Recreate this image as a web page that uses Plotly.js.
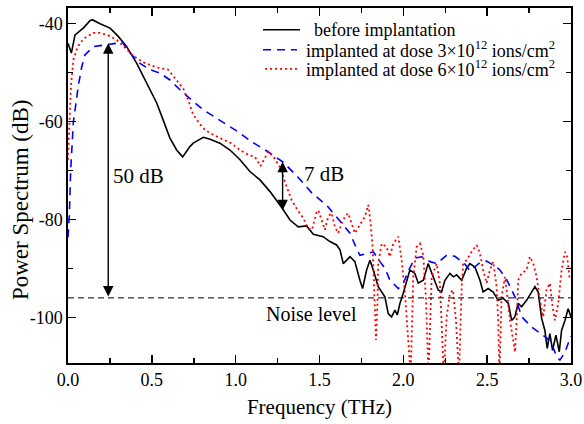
<!DOCTYPE html>
<html>
<head>
<meta charset="utf-8">
<script src="https://cdn.plot.ly/plotly-3.0.1.min.js"></script>
<style>html,body{margin:0;padding:0;background:#fff;}#chart{width:584px;height:424px;}</style>
</head>
<body>
<div id="chart"></div>
<script>
// Frequency (THz) and power spectrum (dB)
const freqBefore = [0.00,0.02,0.042,0.072,0.091,0.131,0.145,0.191,0.251,0.300,0.350,0.410,0.469,0.529,0.568,0.608,0.648,0.684,0.727,0.747,0.807,0.847,0.906,0.966,1.026,1.085,1.145,1.205,1.282,1.324,1.373,1.423,1.463,1.522,1.562,1.602,1.622,1.642,1.682,1.711,1.741,1.757,1.781,1.801,1.821,1.850,1.890,1.910,1.930,1.950,1.964,1.980,1.999,2.020,2.039,2.069,2.089,2.119,2.148,2.178,2.208,2.228,2.248,2.278,2.298,2.318,2.348,2.377,2.397,2.427,2.457,2.476,2.506,2.536,2.566,2.596,2.626,2.646,2.665,2.685,2.705,2.735,2.765,2.785,2.804,2.825,2.844,2.858,2.874,2.890,2.910,2.930,2.944,2.964,2.983,3.00];
const dbBefore = [-44.0,-46.0,-42.3,-41.4,-40.9,-39.4,-39.2,-40.0,-40.9,-42.6,-44.7,-48.1,-52.1,-56.2,-59.7,-63.4,-65.8,-67.2,-65.1,-64.4,-63.2,-63.6,-64.4,-65.8,-67.8,-70.2,-71.9,-74.3,-77.9,-80.1,-81.5,-81.3,-83.0,-83.5,-84.5,-85.2,-86.2,-89.0,-87.6,-88.6,-92.4,-94.1,-90.3,-88.3,-90.3,-93.7,-95.8,-99.2,-99.9,-98.5,-99.5,-97.1,-95.1,-92.7,-90.3,-91.0,-93.0,-92.4,-89.0,-91.7,-94.4,-94.8,-92.4,-91.0,-91.7,-91.3,-92.4,-90.0,-89.0,-89.7,-92.4,-94.8,-94.1,-94.8,-96.5,-96.1,-97.1,-100.6,-99.9,-97.1,-97.8,-96.5,-94.8,-93.7,-94.8,-100.2,-102.6,-106.3,-103.3,-106.7,-103.6,-107.0,-102.6,-100.6,-98.2,-99.9];

const freqDose3 = [0.000,0.008,0.016,0.026,0.032,0.042,0.061,0.082,0.101,0.151,0.201,0.250,0.290,0.320,0.370,0.429,0.489,0.549,0.608,0.668,0.710,0.807,0.906,1.006,1.095,1.199,1.284,1.373,1.455,1.543,1.622,1.682,1.722,1.741,1.791,1.821,1.861,1.891,1.920,1.970,2.000,2.033,2.069,2.109,2.159,2.199,2.258,2.308,2.367,2.397,2.457,2.497,2.546,2.576,2.618,2.666,2.683,2.707,2.767,2.803,2.856,2.892,2.916,2.934,2.964,2.983,3.000];
const dbDose3 = [-83.6,-79.1,-69.9,-63.7,-60.0,-57.6,-52.8,-48.8,-46.4,-44.7,-44.5,-44.3,-44.0,-43.6,-46.0,-48.1,-49.4,-50.1,-51.5,-53.5,-54.8,-57.6,-59.7,-61.9,-64.1,-66.3,-68.3,-71.4,-74.6,-77.1,-80.3,-82.8,-86.0,-87.3,-86.9,-86.6,-88.6,-90.0,-92.4,-94.1,-93.0,-90.3,-87.9,-87.6,-88.6,-89.0,-87.3,-87.5,-89.1,-90.5,-88.8,-88.5,-89.5,-90.3,-92.4,-95.8,-97.5,-99.9,-102.0,-102.9,-104.2,-106.0,-108.1,-108.7,-107.1,-105.3,-103.8];

const freqDose6 = [0.000,0.004,0.008,0.012,0.018,0.032,0.052,0.072,0.101,0.151,0.191,0.240,0.290,0.340,0.389,0.449,0.525,0.598,0.648,0.688,0.717,0.747,0.787,0.817,0.866,0.906,0.972,1.026,1.075,1.115,1.148,1.175,1.194,1.224,1.264,1.297,1.333,1.366,1.403,1.431,1.455,1.483,1.493,1.513,1.532,1.552,1.572,1.592,1.612,1.632,1.652,1.671,1.692,1.711,1.741,1.771,1.791,1.805,1.817,1.825,1.831,1.837,1.846,1.850,1.871,1.900,1.920,1.940,1.970,1.990,2.010,2.029,2.044,2.059,2.079,2.099,2.119,2.135,2.150,2.169,2.199,2.218,2.234,2.242,2.258,2.278,2.296,2.314,2.332,2.348,2.357,2.377,2.407,2.437,2.457,2.476,2.497,2.516,2.536,2.556,2.566,2.573,2.586,2.606,2.618,2.636,2.655,2.666,2.676,2.685,2.705,2.735,2.755,2.775,2.795,2.815,2.834,2.854,2.874,2.890,2.904,2.924,2.944,2.964,2.977,2.993];
const dbDose6 = [-67.8,-63.7,-59.7,-55.6,-52.5,-47.4,-45.3,-43.9,-42.9,-41.9,-41.9,-42.4,-43.3,-44.9,-46.6,-47.9,-48.9,-49.4,-51.5,-53.3,-55.6,-58.6,-60.5,-61.7,-62.7,-63.4,-64.4,-65.8,-66.8,-67.2,-69.1,-67.4,-66.1,-67.1,-69.3,-72.6,-76.0,-77.9,-79.7,-81.8,-82.1,-78.5,-78.1,-80.1,-82.1,-79.4,-78.7,-81.5,-82.8,-80.8,-79.4,-78.7,-80.8,-82.8,-81.1,-79.4,-77.0,-80.8,-85.6,-92.4,-99.2,-104.6,-96.5,-89.0,-84.9,-85.6,-87.6,-84.9,-83.5,-88.3,-95.1,-103.3,-112.0,-92.0,-85.6,-84.9,-87.3,-96.1,-112.0,-91.7,-89.0,-93.0,-104.6,-112.0,-99.9,-95.1,-94.4,-100.6,-112.0,-93.7,-89.0,-88.3,-86.6,-85.2,-86.9,-90.3,-93.0,-90.3,-88.6,-93.7,-100.6,-112.0,-95.8,-91.7,-95.0,-100.6,-104.6,-107.1,-100.6,-92.4,-91.0,-90.3,-87.6,-89.0,-91.7,-96.5,-99.9,-94.4,-93.0,-97.8,-100.6,-97.1,-90.3,-86.6,-87.6,-92.4];

const seriesNames = ['before implantation',
  'implanted at dose 3×10<sup>12</sup> ions/cm<sup>2</sup>',
  'implanted at dose 6×10<sup>12</sup> ions/cm<sup>2</sup>'];
const seriesColors = ['#000000', '#0000ff', '#ff0000'];
const seriesDash = ['solid', '8px,6px', '2px,3px'];
const seriesWidth = [1.6, 1.6, 1.8];

const noiseLevel = -96;
const freqRange = [0, 3];
const dbRange = [-109.3, -36.8];
const arrow50 = {f: 0.24, top: -44, bottom: -96, label: '50 dB', labelF: 0.42, labelDb: -71.2};
const arrow7 = {f: 1.28, top: -68.2, bottom: -78.4, label: '7 dB', labelF: 1.527, labelDb: -70.6};
const noiseLabel = {text: 'Noise level', f: 1.45, db: -99.2};

const xTickVals = [0, 0.5, 1.0, 1.5, 2.0, 2.5, 3.0];
const xTickText = ['0.0', '0.5', '1.0', '1.5', '2.0', '2.5', '3.0'];
const yTickVals = [-100, -80, -60, -40];
const yTickText = ['-100', '-80', '-60', '-40'];

const FONT = 'Liberation Serif, Times New Roman, serif';

const traces = [0, 1, 2].map(function (i) {
  const xs = [freqBefore, freqDose3, freqDose6][i];
  const ys = [dbBefore, dbDose3, dbDose6][i];
  return {x: xs, y: ys, name: seriesNames[i], mode: 'lines', type: 'scatter', showlegend: false,
          line: {color: seriesColors[i], width: seriesWidth[i], dash: seriesDash[i]}};
});
traces.push({x: freqRange, y: [noiseLevel, noiseLevel], mode: 'lines', type: 'scatter', showlegend: false,
   hoverinfo: 'skip', line: {color: '#000000', width: 1, dash: '6px,4px'}});

// Legend drawn in paper coordinates (sample line + label per series)
const legendRowsY = [0.9388, 0.8824, 0.8288];
const legendSampleX = [[0.3877, 0.4612], [0.3877, 0.4552], [0.3917, 0.4552]];
const legendTextX = [0.4851, 0.4692, 0.4692];
const shapes = [];
const annotations = [];
for (let i = 0; i < 3; i++) {
  shapes.push({type: 'line', xref: 'paper', yref: 'paper',
    x0: legendSampleX[i][0], x1: legendSampleX[i][1], y0: legendRowsY[i], y1: legendRowsY[i],
    line: {color: seriesColors[i], width: seriesWidth[i], dash: seriesDash[i]}});
  annotations.push({xref: 'paper', yref: 'paper', x: legendTextX[i], y: legendRowsY[i],
    xanchor: 'left', yanchor: 'middle', text: seriesNames[i], showarrow: false,
    font: {family: FONT, size: 18, color: '#000'}});
}

function dblArrow(a) {
  return [
    {x: a.f, y: a.top, ax: a.f, ay: a.bottom, xref: 'x', yref: 'y', axref: 'x', ayref: 'y',
     text: '', showarrow: true, arrowhead: 2, arrowside: 'end+start', arrowsize: 1.5, arrowwidth: 1.4,
     arrowcolor: '#000', standoff: 0, startstandoff: 0},
    {x: a.labelF, y: a.labelDb, xref: 'x', yref: 'y', text: a.label, showarrow: false,
     font: {family: FONT, size: 21, color: '#000'}}
  ];
}
dblArrow(arrow50).concat(dblArrow(arrow7)).forEach(function (a) { annotations.push(a); });
annotations.push({x: noiseLabel.f, y: noiseLabel.db, xref: 'x', yref: 'y', text: noiseLabel.text,
   showarrow: false, font: {family: FONT, size: 20, color: '#000'}});
// y-axis title placed as rotated annotation to match reference position
annotations.push({xref: 'paper', yref: 'paper', x: -0.0954, y: 0.459, xanchor: 'center', yanchor: 'middle',
   text: 'Power Spectrum (dB)', textangle: -90, showarrow: false,
   font: {family: FONT, size: 23, color: '#000'}});

const layout = {
  width: 584, height: 424,
  margin: {l: 68, r: 13, t: 8, b: 61, pad: 0},
  paper_bgcolor: '#fff', plot_bgcolor: '#fff',
  font: {family: FONT, size: 18, color: '#000'},
  showlegend: false,
  xaxis: {range: freqRange, tickvals: xTickVals, ticktext: xTickText,
          ticks: 'inside', ticklen: 8, tickwidth: 1.5, tickcolor: '#000',
          minor: {dtick: 0.25, ticks: 'inside', ticklen: 5, tickwidth: 1.5, tickcolor: '#000'},
          showline: true, linewidth: 1.6, linecolor: '#000', mirror: 'ticks',
          showgrid: false, zeroline: false,
          tickfont: {family: FONT, size: 18},
          title: {text: 'Frequency (THz)', font: {family: FONT, size: 21}, standoff: 10}},
  yaxis: {range: dbRange, tickvals: yTickVals, ticktext: yTickText,
          ticks: 'inside', ticklen: 8, tickwidth: 1.5, tickcolor: '#000',
          minor: {dtick: 10, ticks: 'inside', ticklen: 5, tickwidth: 1.5, tickcolor: '#000'},
          showline: true, linewidth: 1.6, linecolor: '#000', mirror: 'ticks',
          showgrid: false, zeroline: false,
          tickfont: {family: FONT, size: 18}},
  shapes: shapes,
  annotations: annotations
};

Plotly.newPlot('chart', traces, layout, {displayModeBar: false, staticPlot: true});
</script>
</body>
</html>
